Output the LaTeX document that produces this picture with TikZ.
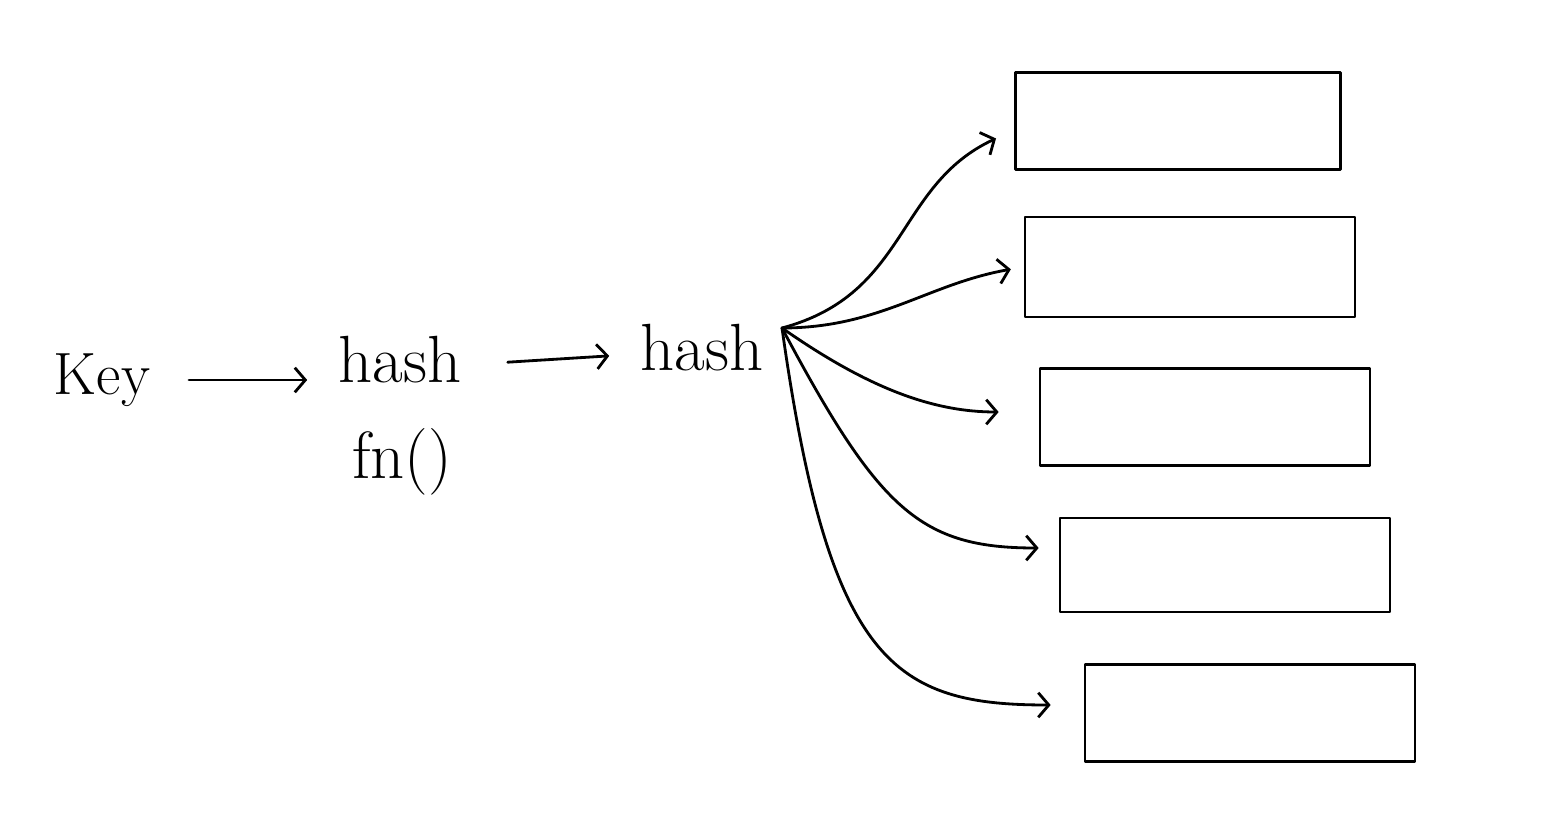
\documentclass[tikz,border=0pt]{standalone}
\usetikzlibrary{arrows.meta}
\begin{document}
\begin{tikzpicture}[x=0.02cm,y=-0.02cm, line width=1.6pt, line cap=round, line join=round,
  lbl/.style={font=\fontsize{38}{44}\selectfont, inner sep=0pt},
  bucket/.style={draw, minimum width=6.5cm, minimum height=1.94cm, inner sep=0pt},
  arr/.style={-{Straight Barb[length=6pt,width=14pt]}}]
\useasboundingbox (0,0) rectangle (1550,820);
% labels
\node[lbl, font=\fontsize{34}{40}\selectfont] (key) at (102,380) {Key};
\node[lbl] (hf1) at (400,360) {hash};
\node[lbl] (hf2) at (402,462) {fn()};
\node[lbl] (hv) at (702,348) {hash};
\coordinate (src) at (782,328);
% buckets
\node[bucket] (b1) at (1178,121) {};
\node[bucket, minimum width=6.6cm, minimum height=2cm] (b2) at (1190,267) {};
\node[bucket, minimum width=6.6cm] (b3) at (1205,417) {};
\node[bucket, minimum width=6.6cm, minimum height=1.88cm] (b4) at (1225,565) {};
\node[bucket, minimum width=6.6cm] (b5) at (1250,713) {};
% chain arrows
\draw[arr, shorten <=0.75cm, shorten >=0.6cm] (key.east) -- (key.east -| hf1.west);
\draw[arr, shorten <=0.9cm, shorten >=0.6cm] ([yshift=-0.1cm]hf1.east) -- ([yshift=-0.12cm]hv.west);
% fan out
\draw[arr, shorten >=0.4cm] (src) to[out=15, in=205, looseness=1.1] ([yshift=-0.18cm]b1.west);
\draw[arr, shorten >=0.26cm] (src) to[out=0, in=190] (b2.west);
\draw[arr, shorten >=0.8cm] (src) to[out=-35, in=180] ([yshift=0.1cm]b3.west);
\draw[arr, shorten >=0.4cm] (src) to[out=-62, in=180, out looseness=1.5, in looseness=1.0] ([yshift=0.34cm]b4.west);
\draw[arr, shorten >=0.66cm] (src) to[out=-82, in=180, out looseness=1.8, in looseness=1.0] ([yshift=0.16cm]b5.west);
\end{tikzpicture}
\end{document}
